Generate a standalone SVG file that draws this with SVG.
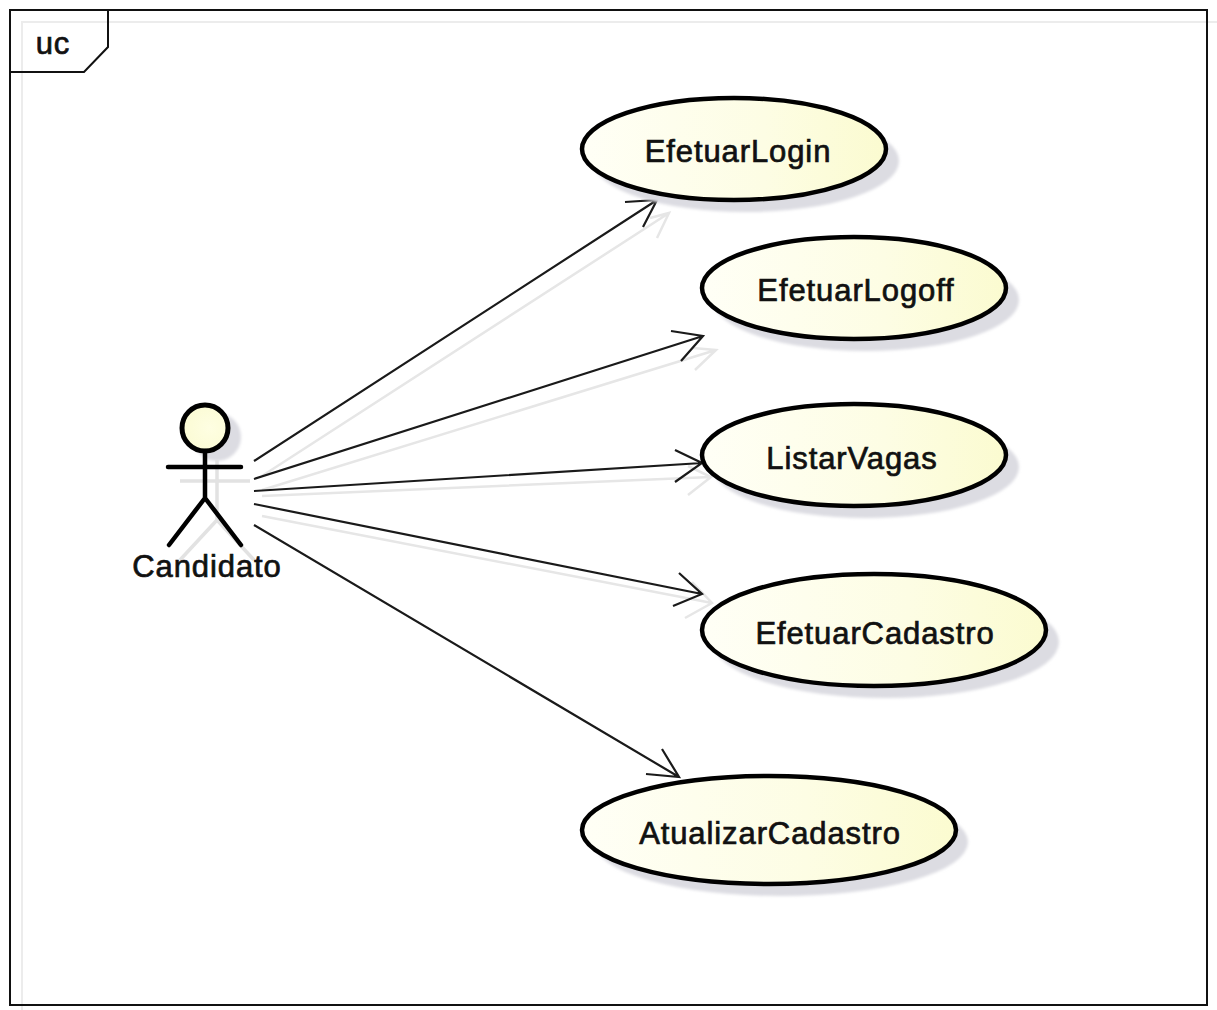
<svg xmlns="http://www.w3.org/2000/svg" width="1217" height="1010" viewBox="0 0 1217 1010">
<defs>
<linearGradient id="g" x1="0" y1="0" x2="1" y2="0"><stop offset="0" stop-color="#fffff6"/><stop offset="0.6" stop-color="#fdfde4"/><stop offset="1" stop-color="#fbfbd0"/></linearGradient>
<radialGradient id="h" cx="0.6" cy="0.5" r="0.6"><stop offset="0" stop-color="#fefee2"/><stop offset="1" stop-color="#fbfbd4"/></radialGradient>
<filter id="b" x="-10%" y="-10%" width="120%" height="120%"><feGaussianBlur stdDeviation="1.5"/></filter>
</defs>
<style>
.uc{fill:url(#g);stroke:#000;stroke-width:4.5}
.sh{fill:#dcdce2;stroke:none;filter:url(#b)}
.t{font-family:"Liberation Sans",Arial,sans-serif;font-size:31px;letter-spacing:.9px;fill:#111;stroke:#111;stroke-width:.7px;text-anchor:middle}
.c{fill:none;stroke:#1a1a1a;stroke-width:2.2}
.cs{fill:none;stroke:#e6e6e6;stroke-width:2.5}
.a{fill:none;stroke:#000;stroke-width:4.5;stroke-linecap:round}
.as{fill:none;stroke:#e2e2e2;stroke-width:3.5}
.f{fill:none;stroke:#111;stroke-width:2}
.fs{fill:none;stroke:#ececec;stroke-width:2}
</style>
<rect width="1217" height="1010" fill="#fff"/>
<g id="frame-shadow"><path class="fs" d="M22 1010V22H1217"/></g>
<g id="frame">
<rect class="f" x="10" y="10" width="1197" height="995"/>
<path class="f" d="M10 72H84L108 47V10"/>
<text class="t" x="53" y="54">uc</text>
</g>
<g id="connectors">
<path class="cs" d="M262 476L669 213M650 218L669 213L657 238"/>
<path class="cs" d="M262 490L716 350M693 348L716 350L695 370"/>
<path class="cs" d="M262 496L711 477M688 466L711 477L688 495"/>
<path class="cs" d="M262 516L712 603M692 582L712 603L685 618"/>
<path class="c" d="M254 461L657 200M625 202L657 200L643 227"/>
<path class="c" d="M254 479L703 336M671 331L703 336L681 361"/>
<path class="c" d="M254 491L702 463M675 450L702 463L675 482"/>
<path class="c" d="M254 504L702 594M679 573L702 594L673 606"/>
<path class="c" d="M254 525L679 777M662 749L679 777L646 774"/>
</g>
<g id="actor-candidato">
<circle cx="217" cy="437" r="24" fill="#dcdce2" filter="url(#b)"/>
<path class="as" d="M180 481H250M217 460V520M217 520L180 560M217 520L254 560"/>
<circle cx="205" cy="428" r="23" fill="url(#h)" stroke="#000" stroke-width="5"/>
<path class="a" d="M205 451V498M168 467H241M205 498L169 545M205 498L241 545"/>
<text class="t" x="207" y="577">Candidato</text>
</g>
<g id="uc-efetuarlogin"><ellipse class="sh" cx="746" cy="161" rx="153" ry="51"/><ellipse class="uc" cx="734" cy="149" rx="152" ry="51"/><text class="t" x="738" y="162">EfetuarLogin</text></g>
<g id="uc-efetuarlogoff"><ellipse class="sh" cx="866" cy="300" rx="153" ry="51"/><ellipse class="uc" cx="854" cy="288" rx="152" ry="51"/><text class="t" x="856" y="301">EfetuarLogoff</text></g>
<g id="uc-listarvagas"><ellipse class="sh" cx="866" cy="467" rx="153" ry="51"/><ellipse class="uc" cx="854" cy="455" rx="152" ry="51"/><text class="t" x="852" y="469">ListarVagas</text></g>
<g id="uc-efetuarcadastro"><ellipse class="sh" cx="886" cy="642" rx="173" ry="56"/><ellipse class="uc" cx="874" cy="630" rx="172" ry="56"/><text class="t" x="875" y="644">EfetuarCadastro</text></g>
<g id="uc-atualizarcadastro"><ellipse class="sh" cx="781" cy="842" rx="187" ry="54"/><ellipse class="uc" cx="769" cy="830" rx="187" ry="54"/><text class="t" x="770" y="844">AtualizarCadastro</text></g>
</svg>
